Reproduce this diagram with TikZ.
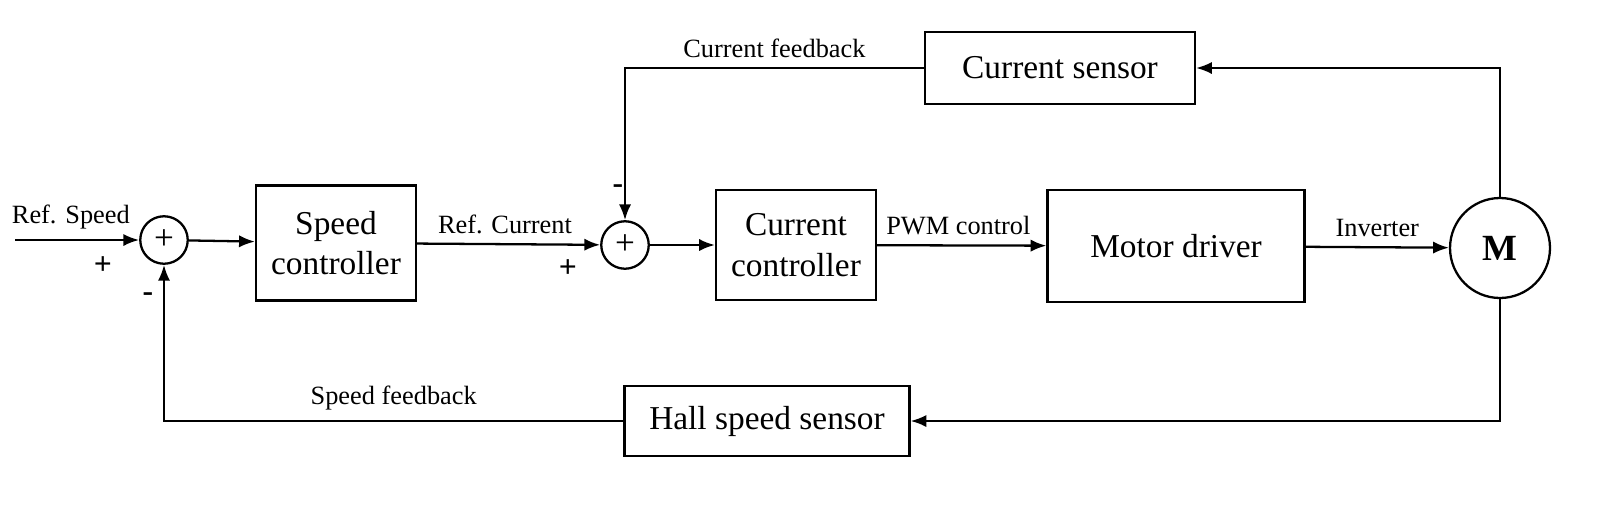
\documentclass[tikz,border=0pt]{standalone}
\usepackage{fontspec}
\setmainfont{Liberation Serif}
\usetikzlibrary{positioning,arrows.meta}
\begin{document}
\begin{tikzpicture}[x=0.02cm,y=-0.02cm,
    block/.style={draw,line width=1.3pt,align=center,font=\fontsize{19}{23}\selectfont},
    sumnode/.style={draw,circle,line width=1.3pt,minimum size=0.95cm,inner sep=0pt,font=\fontsize{20}{20}\selectfont},
    sig/.style={font=\fontsize{15}{18}\selectfont},
    sgn/.style={font=\bfseries\fontsize{18}{18}\selectfont},
    line/.style={line width=1.3pt,-{Latex[length=9pt,width=7pt]}}]
    \useasboundingbox (0,0) rectangle (1611,504);

    \coordinate (in) at (15,240);
    \node[sumnode] (s1) at (164,240) {+};
    \node[block,minimum width=3.2cm,minimum height=2.3cm] (sc) at (336,243) {Speed\\controller};
    \node[sumnode] (s2) at (625,245) {+};
    \node[block,minimum width=3.2cm,minimum height=2.2cm] (cc) at (796,245) {Current\\controller};
    \node[block,minimum width=5.14cm,minimum height=2.24cm] (md) at (1176,246) {Motor driver};
    \node[draw,circle,line width=1.3pt,minimum size=2cm,font=\bfseries\fontsize{21}{21}\selectfont] (m) at (1500,248) {M};
    \node[block,minimum width=5.4cm,minimum height=1.44cm] (cs) at (1060,68) {Current sensor};
    \node[block,minimum width=5.7cm,minimum height=1.4cm] (hs) at (767,421) {Hall speed sensor};

    \draw[line] (in) -- node[sig,above=2pt,pos=0.45] {Ref. Speed} (s1);
    \draw[line] (s1) -- (sc);
    \draw[line] (sc) -- node[sig,above=2pt,pos=0.48] {Ref. Current} (s2);
    \draw[line] (s2) -- (cc);
    \draw[line] (cc) -- node[sig,above=2pt,pos=0.48] {PWM control} (md);
    \draw[line] (md) -- node[sig,above=2pt,pos=0.5] {Inverter} (m);
    \draw[line] (m.north) |- (cs.east);
    \draw[line] (cs.west) -| node[sig,above=2pt,pos=0.25] {Current feedback} (s2.north);
    \draw[line] (m.south) |- (hs.east);
    \draw[line] (hs.west) -| node[sig,above=2pt,pos=0.25] {Speed feedback} (s1.south);

    \node[sgn] at (103,266) {+};
    \node[sgn] at (148,297) {-};
    \node[sgn] at (568,269) {+};
    \node[sgn] at (618,189) {-};
\end{tikzpicture}
\end{document}
